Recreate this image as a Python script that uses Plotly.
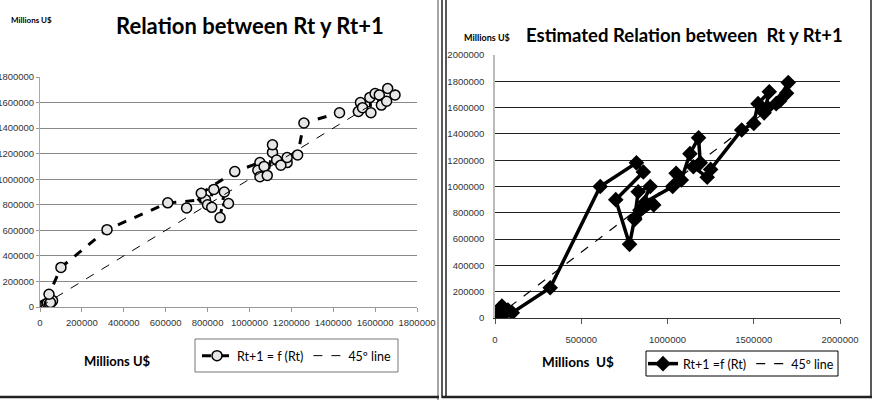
import plotly.graph_objects as go

# ---------------- data ----------------
rt_left = [5000, 12000, 20000, 28000, 35000, 45000, 55000, 60000, 50000, 43000,
           100000, 320000, 610000, 790000, 700000, 830000, 800000, 860000, 880000, 900000,
           820000, 770000, 930000, 1050000, 1040000, 1070000, 1050000, 1085000, 1110000, 1110000,
           1130000, 1180000, 1150000, 1180000, 1230000, 1260000, 1430000, 1520000, 1530000, 1540000,
           1580000, 1575000, 1600000, 1630000, 1655000, 1620000, 1660000, 1695000]
rt1_left = [3000, 8000, 15000, 22000, 30000, 25000, 40000, 50000, 35000, 100000,
            310000, 605000, 815000, 840000, 775000, 920000, 800000, 700000, 900000, 810000,
            780000, 890000, 1060000, 1130000, 1070000, 1100000, 1020000, 1030000, 1210000, 1270000,
            1150000, 1130000, 1110000, 1170000, 1190000, 1440000, 1520000, 1530000, 1600000, 1560000,
            1520000, 1640000, 1670000, 1580000, 1610000, 1660000, 1710000, 1660000]

rt_right = [5000, 15000, 30000, 40000, 55000, 20000, 60000, 75000, 100000, 320000,
            610000, 820000, 860000, 700000, 780000, 810000, 830000, 900000, 840000, 920000,
            810000, 870000, 1030000, 1050000, 1080000, 1130000, 1180000, 1190000, 1150000, 1230000,
            1250000, 1430000, 1500000, 1525000, 1590000, 1560000, 1630000, 1700000, 1650000, 1580000,
            1690000]
rt1_right = [5000, 30000, 60000, 90000, 70000, 10000, 40000, 60000, 40000, 230000,
             1000000, 1180000, 1110000, 900000, 560000, 760000, 960000, 1000000, 820000, 860000,
             750000, 880000, 1000000, 1100000, 1050000, 1250000, 1370000, 1180000, 1150000, 1070000,
             1130000, 1430000, 1480000, 1630000, 1720000, 1560000, 1630000, 1790000, 1650000, 1600000,
             1710000]

line45 = [0, 50000, 100000, 320000, 610000, 700000, 800000, 900000, 1050000,
          1200000, 1430000, 1600000, 1700000]

left_ticks = [0, 200000, 400000, 600000, 800000, 1000000, 1200000, 1400000, 1600000, 1800000]
right_xticks = [0, 500000, 1000000, 1500000, 2000000]
right_yticks = [0, 200000, 400000, 600000, 800000, 1000000, 1200000, 1400000,
                1600000, 1800000, 2000000]

TXT = "Lato"
W, H = 877, 400

fig = go.Figure()

# left panel
fig.add_trace(go.Scatter(
    x=rt_left, y=rt1_left, mode="lines+markers", name="Rt+1 = f (Rt)",
    line=dict(color="black", width=3, dash="dash"),
    marker=dict(symbol="circle", size=10, color="#e6e6e6",
                line=dict(color="black", width=1.5)),
    xaxis="x", yaxis="y", legend="legend"))
fig.add_trace(go.Scatter(
    x=line45, y=line45, mode="lines", name="45º line",
    line=dict(color="black", width=1, dash="dash"),
    xaxis="x", yaxis="y", legend="legend"))

# right panel
fig.add_trace(go.Scatter(
    x=rt_right, y=rt1_right, mode="lines+markers", name="Rt+1 =f (Rt)",
    line=dict(color="black", width=3.5),
    marker=dict(symbol="diamond", size=12, color="black"),
    xaxis="x2", yaxis="y2", legend="legend2"))
fig.add_trace(go.Scatter(
    x=line45, y=line45, mode="lines", name="45º line",
    line=dict(color="black", width=1.2, dash="dash"),
    xaxis="x2", yaxis="y2", legend="legend2"))

def px_x(p):
    return p / W

def px_y(p):
    return 1 - p / H

tickfont = dict(family="Liberation Sans", size=9.5, color="#333")
tickfont_r = dict(family="Liberation Sans", size=9.5, color="#333")

fig.update_layout(
    width=W, height=H, autosize=False,
    margin=dict(l=0, r=0, t=0, b=0, autoexpand=False),
    paper_bgcolor="white", plot_bgcolor="white",
    font=dict(family=TXT, color="black"),
    xaxis=dict(domain=[px_x(40), px_x(417)], range=[0, 1800000],
               tickvals=left_ticks, tickformat="d", showgrid=False,
               showline=True, linecolor="#999", linewidth=1,
               ticks="outside", ticklen=4, tickcolor="#999",
               ticklabelstandoff=3, automargin=False,
               tickfont=tickfont, zeroline=False, anchor="y"),
    yaxis=dict(domain=[px_y(307), px_y(77)], range=[0, 1800000],
               tickvals=left_ticks, tickformat="d", showgrid=True,
               gridcolor="#8a8a8a", gridwidth=1,
               showline=True, linecolor="#aaa", linewidth=1,
               ticks="outside", ticklen=3, tickcolor="#999", automargin=False,
               tickfont=tickfont, zeroline=False, anchor="x"),
    xaxis2=dict(domain=[px_x(495), px_x(840)], range=[0, 2000000],
                tickvals=right_xticks, tickformat="d", showgrid=False,
                showline=True, linecolor="#333", linewidth=1,
                ticks="outside", ticklen=5, tickcolor="#555",
                ticklabelstandoff=8, automargin=False,
                tickfont=tickfont_r, zeroline=False, anchor="y2"),
    yaxis2=dict(domain=[px_y(318), px_y(55)], range=[0, 2000000],
                tickvals=right_yticks, tickformat="d", showgrid=True,
                gridcolor="#222", gridwidth=1,
                showline=True, linecolor="#bbb", linewidth=1.5,
                ticks="", ticklabelstandoff=7, automargin=False,
                tickfont=tickfont_r, zeroline=False, anchor="x2"),
    legend=dict(x=px_x(297), y=px_y(356), xanchor="center", yanchor="middle",
                orientation="h", borderwidth=0,
                font=dict(family=TXT, size=12.5), bgcolor="rgba(0,0,0,0)"),
    legend2=dict(x=px_x(741), y=px_y(364), xanchor="center", yanchor="middle",
                 orientation="h", borderwidth=0,
                 font=dict(family=TXT, size=12.5), bgcolor="rgba(0,0,0,0)"),
    showlegend=True,
)

ann = []
ann.append(dict(text="<b>Relation between Rt y Rt+1</b>", x=px_x(250), y=px_y(26),
                xref="paper", yref="paper", showarrow=False,
                xanchor="center", yanchor="middle",
                font=dict(family=TXT, size=22, color="black")))
ann.append(dict(text="<b>Millions U$</b>", x=px_x(9), y=px_y(20),
                xref="paper", yref="paper", showarrow=False,
                xanchor="left", yanchor="middle",
                font=dict(family=TXT, size=8, color="black")))
ann.append(dict(text="<b>Millions U$</b>", x=px_x(117), y=px_y(361),
                xref="paper", yref="paper", showarrow=False,
                xanchor="center", yanchor="middle",
                font=dict(family=TXT, size=13, color="black")))
ann.append(dict(text="<b>Estimated Relation between  Rt y Rt+1</b>", x=px_x(684), y=px_y(35),
                xref="paper", yref="paper", showarrow=False,
                xanchor="center", yanchor="middle",
                font=dict(family=TXT, size=18.5, color="black")))
ann.append(dict(text="<b>Millions U$</b>", x=px_x(462), y=px_y(37),
                xref="paper", yref="paper", showarrow=False,
                xanchor="left", yanchor="middle",
                font=dict(family=TXT, size=9, color="black")))
ann.append(dict(text="<b>Millions  U$</b>", x=px_x(578), y=px_y(362),
                xref="paper", yref="paper", showarrow=False,
                xanchor="center", yanchor="middle",
                font=dict(family=TXT, size=13.5, color="black")))
fig.update_layout(annotations=ann)

shapes = []
# legend boxes
shapes.append(dict(type="rect", xref="paper", yref="paper",
                   x0=px_x(195), x1=px_x(398), y0=px_y(372), y1=px_y(339),
                   line=dict(color="#777", width=1), fillcolor="rgba(0,0,0,0)"))
shapes.append(dict(type="rect", xref="paper", yref="paper",
                   x0=px_x(646), x1=px_x(838), y0=px_y(376), y1=px_y(351),
                   line=dict(color="black", width=1), fillcolor="rgba(0,0,0,0)"))
# left panel frame
shapes.append(dict(type="line", xref="paper", yref="paper", x0=px_x(438), x1=px_x(438),
                   y0=0, y1=1, line=dict(color="#888", width=1.5)))
shapes.append(dict(type="line", xref="paper", yref="paper", x0=0, x1=px_x(439),
                   y0=px_y(397), y1=px_y(397), line=dict(color="#222", width=2.5)))
# right panel double frame
for xp in (442, 446):
    shapes.append(dict(type="line", xref="paper", yref="paper", x0=px_x(xp), x1=px_x(xp),
                       y0=px_y(398), y1=1, line=dict(color="#222", width=1.5)))
shapes.append(dict(type="line", xref="paper", yref="paper", x0=px_x(871), x1=px_x(871),
                   y0=px_y(397), y1=1, line=dict(color="#222", width=1.5)))
shapes.append(dict(type="line", xref="paper", yref="paper", x0=px_x(442), x1=px_x(872),
                   y0=px_y(397), y1=px_y(397), line=dict(color="#222", width=2.5)))
fig.update_layout(shapes=shapes)

fig.write_html("out.html")
